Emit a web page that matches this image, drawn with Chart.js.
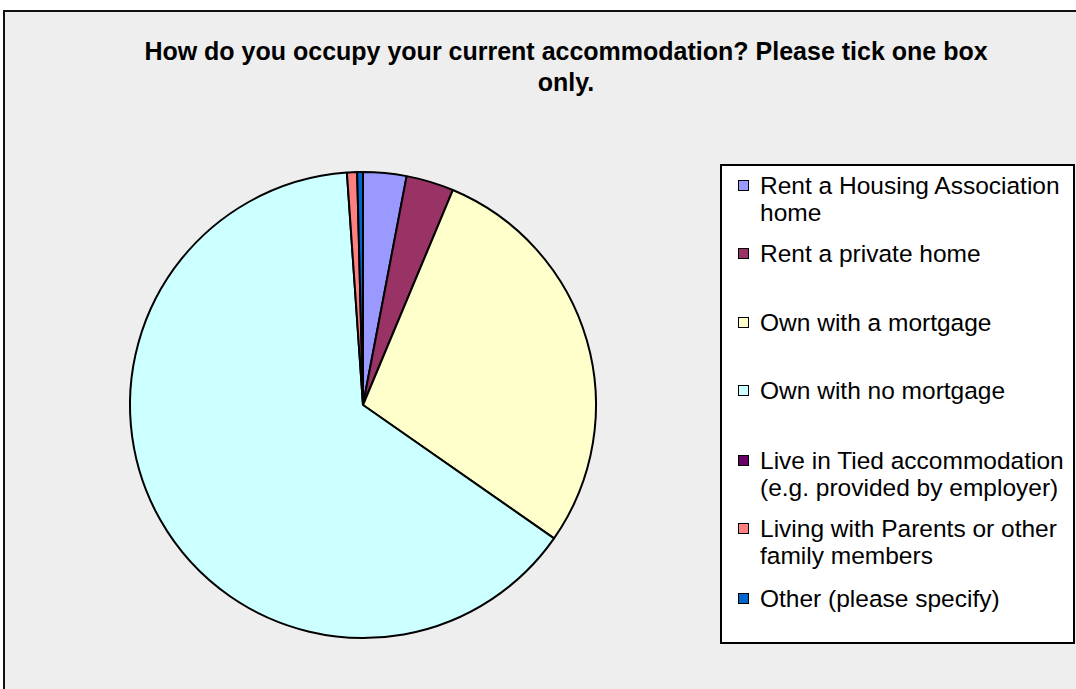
<!DOCTYPE html>
<html lang="en">
<head>
  <meta charset="UTF-8">
  <title>How do you occupy your current accommodation?</title>
  <script src="https://cdn.jsdelivr.net/npm/chart.js"></script>
  <style>
    body {
      margin: 0;
      width: 1076px;
      height: 689px;
      overflow: hidden;
      background: #fff;
      font-family: "Liberation Sans", Arial, sans-serif;
      position: relative;
    }
    .frame {
      position: absolute;
      left: 3px;
      top: 10px;
      width: 1200px;
      height: 800px;
      background: #eeeeee;
      border: 2px solid #111;
    }
    .title {
      position: absolute;
      left: 0;
      width: 1132px;
      top: 36px;
      text-align: center;
      font-size: 25px;
      font-weight: bold;
      line-height: 31px;
      color: #000;
    }
    canvas {
      position: absolute;
      left: 0;
      top: 0;
    }
    .legend {
      position: absolute;
      left: 720px;
      top: 164px;
      width: 351px;
      height: 476px;
      background: #fff;
      border: 2px solid #000;
    }
    .legend .item {
      position: absolute;
      left: 38px;
      font-size: 24.5px;
      line-height: 27px;
      color: #000;
      white-space: nowrap;
    }
    .legend .box {
      position: absolute;
      left: -22px;
      top: 8px;
      width: 9px;
      height: 9px;
      border: 1px solid #000;
    }
  </style>
</head>
<body>
  <div class="frame"></div>
  <div class="title">How do you occupy your current accommodation? Please tick one box<br>only.</div>
  <canvas id="pieChart" width="1076" height="689"></canvas>
  <div class="legend" id="legend"></div>

  <script>
    const categories = [
      ['Rent a Housing Association', 'home'],
      ['Rent a private home'],
      ['Own with a mortgage'],
      ['Own with no mortgage'],
      ['Live in Tied accommodation', '(e.g. provided by employer)'],
      ['Living with Parents or other', 'family members'],
      ['Other (please specify)']
    ];
    const percentages = [3.0, 3.3, 28.4, 64.2, 0, 0.7, 0.4];
    const sliceColors = ['#9999ff', '#993366', '#ffffcc', '#ccffff', '#660066', '#ff8080', '#0066cc'];

    // top of each legend row inside the legend box
    const legendRowTops = [6, 74, 143, 211, 281, 349, 419];

    const legend = document.getElementById('legend');
    categories.forEach((lines, i) => {
      const item = document.createElement('div');
      item.className = 'item';
      item.style.top = legendRowTops[i] + 'px';
      item.innerHTML = '<span class="box" style="background:' + sliceColors[i] + '"></span>' + lines.join('<br>');
      legend.appendChild(item);
    });

    new Chart(document.getElementById('pieChart'), {
      type: 'pie',
      data: {
        labels: categories.map(l => l.join(' ')),
        datasets: [{
          data: percentages,
          backgroundColor: sliceColors,
          borderColor: '#000',
          borderWidth: 2
        }]
      },
      options: {
        responsive: false,
        animation: false,
        layout: {
          padding: { left: 129, right: 479, top: 171, bottom: 50 }
        },
        plugins: {
          legend: { display: false },
          title: { display: false },
          tooltip: { enabled: false }
        }
      }
    });
  </script>
</body>
</html>
